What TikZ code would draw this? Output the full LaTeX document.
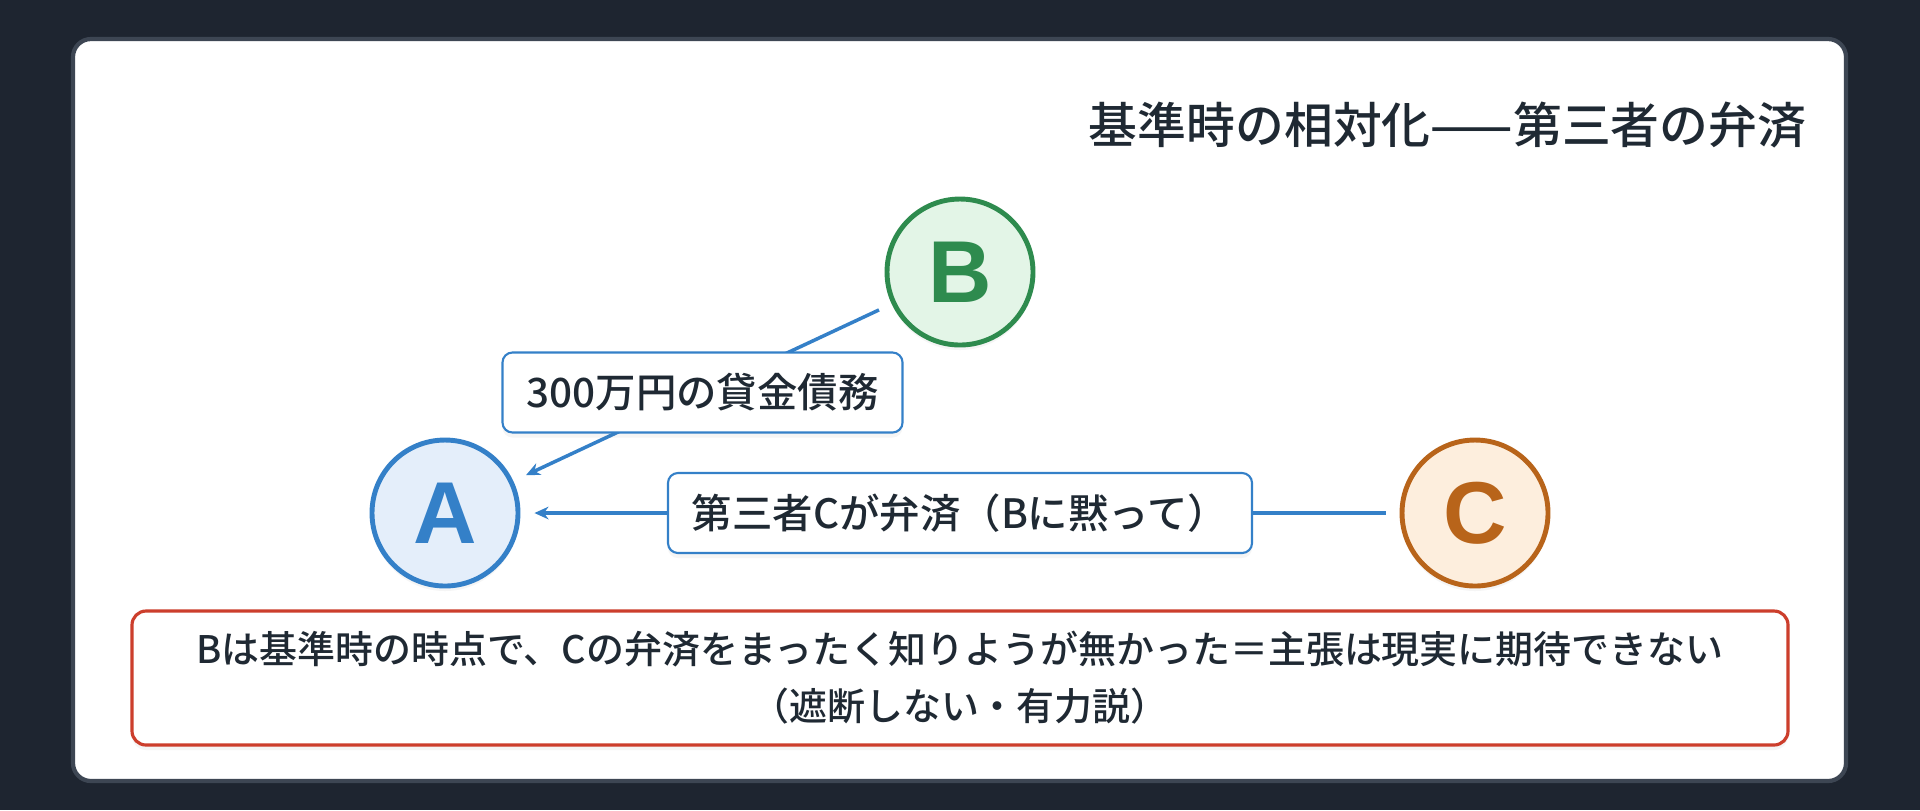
\documentclass[tikz,border=0pt]{standalone}
\usepackage{fontspec}
\IfFontExistsTF{Noto Sans CJK JP Medium}
  {\setmainfont{Noto Sans CJK JP Medium}}
  {\setmainfont{Noto Sans CJK JP}[FakeBold=0.4]}
\newfontfamily\eiji{Liberation Sans}
\usetikzlibrary{arrows.meta,shadows}

\definecolor{haikei}{HTML}{1E2530}
\definecolor{waku}{HTML}{3D4653}
\definecolor{moji}{HTML}{1F2933}
\definecolor{ao}{HTML}{3480C8}
\definecolor{aousu}{HTML}{E4EEFA}
\definecolor{midori}{HTML}{2E8B4E}
\definecolor{midoriusu}{HTML}{E3F5E7}
\definecolor{daidai}{HTML}{B8641A}
\definecolor{daidaiusu}{HTML}{FDEEDD}
\definecolor{aka}{HTML}{CC3E2C}

\begin{document}
\begin{tikzpicture}[y=-1cm,
    kage/.style={drop shadow={opacity=0.08, shadow xshift=0pt, shadow yshift=-0.05cm}},
    hito/.style={circle, line width=1.4pt, minimum size=1.46cm, inner sep=0pt, kage,
      font=\eiji\fontsize{25}{25}\selectfont\bfseries},
    yajirushi/.style={ao, line width=1pt, -{Stealth[length=4pt,width=3.6pt]},
      shorten >=0.14cm, shorten <=0.14cm},
    raberu/.style={draw=ao, fill=white, line width=0.6pt, rounded corners=0.1cm, kage,
      text=moji, inner xsep=0.24cm, minimum height=0.8cm,
      font=\fontsize{11.5}{13}\selectfont},
    chuui/.style={draw=aka, fill=white, line width=0.9pt, rounded corners=0.14cm, kage,
      minimum width=16.56cm, minimum height=1.34cm, align=center, text=moji,
      font=\fontsize{10.8}{16.2}\selectfont}]

    % 背景
    \fill[haikei] (0,0) rectangle (19.2,8.1);
    \draw[waku, line width=1.2pt, fill=white, rounded corners=0.18cm] (0.73,0.39) rectangle (18.46,7.81);

    % タイトル
    \node[anchor=east, inner sep=0pt, text=moji, font=\fontsize{13.9}{16}\selectfont] (title) at (18.07,1.25) {基準時の相対化——第三者の弁済};

    % ノード
    \node[hito, draw=ao, fill=aousu, text=ao] (A) at (4.45,5.13) {A};
    \node[hito, draw=midori, fill=midoriusu, text=midori] (B) at (9.60,2.72) {B};
    \node[hito, draw=daidai, fill=daidaiusu, text=daidai] (C) at (14.75,5.13) {C};

    % エッジ
    \draw[yajirushi] (B) -- node[raberu] (kashikin) {300万円の貸金債務} (A);
    \draw[yajirushi] (C) -- node[raberu] (bensai) {第三者Cが弁済（Bに黙って）} (A);

    % 結論
    \node[chuui] (ketsuron) at (9.60,6.78) {Bは基準時の時点で、Cの弁済をまったく知りようが無かった＝主張は現実に期待できない\\（遮断しない・有力説）};
  \end{tikzpicture}
\end{document}
